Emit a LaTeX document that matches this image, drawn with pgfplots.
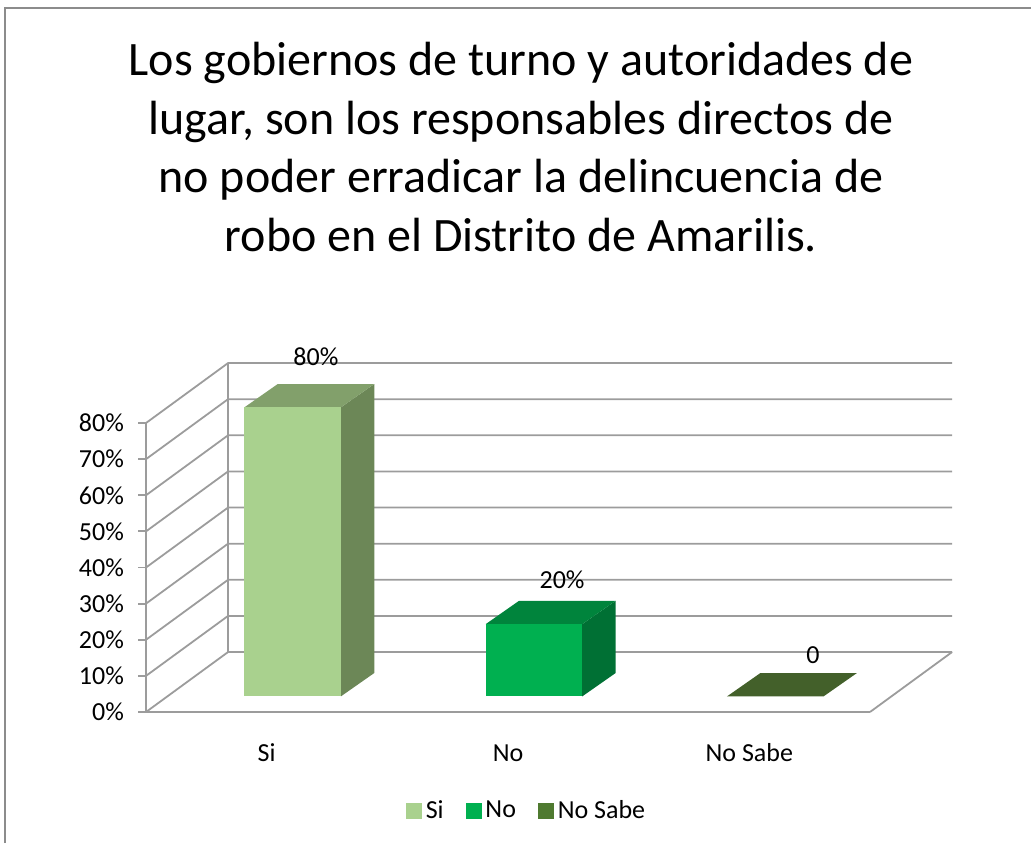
\documentclass[border=0pt]{standalone}
\usepackage{fontspec}
\setmainfont{Carlito}
\usepackage{pgfplots}
\pgfplotsset{compat=1.18}
\definecolor{gridgray}{HTML}{9C9C9C}
\definecolor{siFront}{HTML}{A9D18E}
\definecolor{siSide}{HTML}{6C8757}
\definecolor{siTop}{HTML}{82A06B}
\definecolor{noFront}{HTML}{00B050}
\definecolor{noSide}{HTML}{007034}
\definecolor{noTop}{HTML}{00843C}
\definecolor{nsTop}{HTML}{43602A}
\definecolor{nsLeg}{HTML}{4F7A30}
\begin{document}
\begin{tikzpicture}
\path[use as bounding box] (0pt,0pt) rectangle (515.5pt,421.5pt);
\draw[color=gray!90, line width=0.8pt] (2.5pt,0pt) -- (2.5pt,417.5pt) -- (515.5pt,417.5pt);
\node[align=center, font=\fontsize{24}{29.3}\selectfont, anchor=center] at (260.5pt,348pt)
  {Los gobiernos de turno y autoridades de\\lugar, son los responsables directos de\\no poder erradicar la delincuencia de\\robo en el Distrito de Amarilis.};
\begin{axis}[
  at={(73pt,65.5pt)}, anchor=origin,
  scale only axis, width=362pt, height=144.5pt,
  xmin=0, xmax=3, ymin=0, ymax=80, clip=false,
  axis x line*=bottom, axis y line*=left,
  axis line style={draw=gridgray, line width=0.9pt},
  every tick/.style={draw=gridgray, line width=0.9pt},
  tick align=outside, major tick length=4pt,
  ytick={0,10,...,80},
  yticklabels={0\%,10\%,20\%,30\%,40\%,50\%,60\%,70\%,80\%},
  xtick={0.5,1.5,2.5}, xticklabels={Si,No,No Sabe},
  x tick style={draw=none},
  extra x ticks={0,1,2,3}, extra x tick labels={},
  extra x tick style={tick style={draw=gridgray, line width=0.9pt}, major tick length=3pt},
  tick label style={font=\fontsize{13}{15}\selectfont},
  /pgf/number format/assume math mode=true,
  xticklabel style={yshift=-8pt, text height=9pt, text depth=2.5pt},
  yticklabel style={xshift=-3.5pt},
  every axis plot/.append style={mark=none},
  legend style={draw=none, at={(0.527,-0.3426)}, anchor=center, legend columns=3,
    font=\fontsize{13}{15}\selectfont,
    /tikz/every even column/.append style={column sep=9pt}},
]
% left side wall and back wall grid lines
\draw[gridgray, line width=0.9pt] (axis cs:0,0) -- (axis cs:0.34,16.6) -- (axis cs:3.34,16.6);
\draw[gridgray, line width=0.9pt] (axis cs:0,10) -- (axis cs:0.34,26.6) -- (axis cs:3.34,26.6);
\draw[gridgray, line width=0.9pt] (axis cs:0,20) -- (axis cs:0.34,36.6) -- (axis cs:3.34,36.6);
\draw[gridgray, line width=0.9pt] (axis cs:0,30) -- (axis cs:0.34,46.6) -- (axis cs:3.34,46.6);
\draw[gridgray, line width=0.9pt] (axis cs:0,40) -- (axis cs:0.34,56.6) -- (axis cs:3.34,56.6);
\draw[gridgray, line width=0.9pt] (axis cs:0,50) -- (axis cs:0.34,66.6) -- (axis cs:3.34,66.6);
\draw[gridgray, line width=0.9pt] (axis cs:0,60) -- (axis cs:0.34,76.6) -- (axis cs:3.34,76.6);
\draw[gridgray, line width=0.9pt] (axis cs:0,70) -- (axis cs:0.34,86.6) -- (axis cs:3.34,86.6);
\draw[gridgray, line width=0.9pt] (axis cs:0,80) -- (axis cs:0.34,96.6) -- (axis cs:3.34,96.6);
\draw[gridgray, line width=0.9pt] (axis cs:0.34,16.6) -- (axis cs:0.34,96.6);
\draw[gridgray, line width=0.9pt] (axis cs:3,0) -- (axis cs:3.34,16.6);
% Si = 80
\addplot[fill=siSide, draw=none, forget plot] coordinates {(0.807,4.3) (0.946,10.8) (0.946,90.8) (0.807,84.3)} -- cycle;
\addplot[fill=siTop, draw=none, forget plot] coordinates {(0.407,84.3) (0.807,84.3) (0.946,90.8) (0.546,90.8)} -- cycle;
\addplot[fill=siFront, draw=none, forget plot] coordinates {(0.407,4.3) (0.807,4.3) (0.807,84.3) (0.407,84.3)} -- cycle;
% No = 20
\addplot[fill=noSide, draw=none, forget plot] coordinates {(1.807,4.3) (1.946,10.8) (1.946,30.8) (1.807,24.3)} -- cycle;
\addplot[fill=noTop, draw=none, forget plot] coordinates {(1.407,24.3) (1.807,24.3) (1.946,30.8) (1.546,30.8)} -- cycle;
\addplot[fill=noFront, draw=none, forget plot] coordinates {(1.407,4.3) (1.807,4.3) (1.807,24.3) (1.407,24.3)} -- cycle;
% No Sabe = 0
\addplot[fill=nsTop, draw=none, forget plot] coordinates {(2.407,4.3) (2.807,4.3) (2.946,10.8) (2.546,10.8)} -- cycle;
% data labels
\node[font=\fontsize{13}{15}\selectfont] at (axis cs:0.704,98.3) {80\%};
\node[font=\fontsize{13}{15}\selectfont] at (axis cs:1.724,36.5) {20\%};
\node[font=\fontsize{13}{15}\selectfont] at (axis cs:2.764,15.8) {0};
% legend
\addlegendimage{legend image code/.code={\fill[siFront] (0pt,-3.7pt) rectangle (7.5pt,3.7pt);}}
\addlegendentry{Si}
\addlegendimage{legend image code/.code={\fill[noFront] (0pt,-3.7pt) rectangle (7.5pt,3.7pt);}}
\addlegendentry{No}
\addlegendimage{legend image code/.code={\fill[nsLeg] (0pt,-3.7pt) rectangle (7.5pt,3.7pt);}}
\addlegendentry{No Sabe}
\end{axis}
\end{tikzpicture}
\end{document}
